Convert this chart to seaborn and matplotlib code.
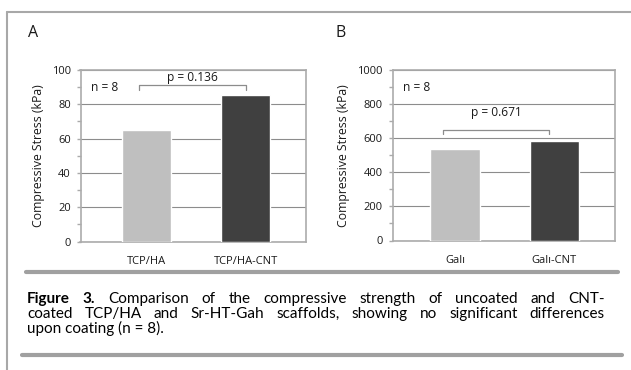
import matplotlib
matplotlib.use("Agg")
import matplotlib.pyplot as plt
import seaborn as sns
import pandas as pd
from matplotlib.ticker import MultipleLocator
from matplotlib.lines import Line2D

# values
groups_a = ["TCP/HA", "TCP/HA-CNT"]
stress_a = [65, 85.5]
groups_b = ["Galı", "Galı-CNT"]
stress_b = [535, 581]
bar_colors = ["#bfbfbf", "#404040"]
p_a = "p = 0.136"
p_b = "p = 0.671"
n_text = "n = 8"

caption_lines = [
    [("Figure", "bold"), ("3.", "bold"), ("Comparison", "normal"), ("of", "normal"),
     ("the", "normal"), ("compressive", "normal"), ("strength", "normal"), ("of", "normal"),
     ("uncoated", "normal"), ("and", "normal"), ("CNT-", "normal")],
    [(w, "normal") for w in "coated TCP/HA and Sr-HT-Gah scaffolds, showing no significant differences".split()],
    [("upon coating (n = 8).", "normal")],
]

W, H = 631, 370
CHART_FONT = ["Open Sans", "DejaVu Sans"]
CAP_FONT = ["Lato", "DejaVu Sans"]

sns.set_style("white")
plt.rcParams["font.family"] = CHART_FONT


def px(x, y):
    return x / W, 1 - y / H


def make_panel(fig, rect, groups, values, ymax, step, xlim, width, bracket, ptext, ptext_y, n_xy):
    ax = fig.add_axes(rect)
    df = pd.DataFrame({"group": groups, "stress": values})
    sns.barplot(data=df, x="group", y="stress", hue="group", palette=bar_colors,
                width=width, legend=False, saturation=1, ax=ax, zorder=3)
    ax.set_xlim(*xlim)
    ax.set_ylim(0, ymax)
    ax.yaxis.set_major_locator(MultipleLocator(step))
    ax.yaxis.set_minor_locator(MultipleLocator(step / 2))
    ax.grid(axis="y", which="major", color="#8c8c8c", lw=0.8, zorder=0)
    for s in ax.spines.values():
        s.set_visible(True)
        s.set_color("#ababab")
        s.set_linewidth(1.2)
    ax.tick_params(axis="y", which="both", left=True, direction="out", color="#ababab",
                   length=3, width=1, labelsize=8, pad=4, labelcolor="#1a1a1a")
    ax.tick_params(axis="x", bottom=False, labelsize=8, pad=7, labelcolor="#1a1a1a")
    ax.set_xlabel("")
    ax.set_ylabel("Compressive Stress (kPa)", fontsize=8.8, labelpad=5, color="#1a1a1a")
    x0, x1, yb, yt = bracket
    ax.plot([x0, x0, x1, x1], [yb, yt, yt, yb], color="#8c8c8c", lw=0.9, zorder=4, clip_on=False)
    ax.text((x0 + x1) / 2, ptext_y, ptext, ha="center", va="center", fontsize=8.6, color="#1a1a1a")
    ax.text(n_xy[0], n_xy[1], n_text, transform=ax.transAxes, ha="left", va="center",
            fontsize=8.6, color="#1a1a1a")
    return ax


fig = plt.figure(figsize=(W / 100, H / 100), dpi=100)
fig.patch.set_facecolor("white")

make_panel(fig, [80.5 / W, 1 - 241.5 / H, 225 / W, 171.5 / H], groups_a, stress_a, 100, 20,
           (-0.66, 1.6), 0.49, (-0.07, 1.0, 88.5, 91), p_a, 95.5, (0.045, 0.9))
make_panel(fig, [392.5 / W, 1 - 240.5 / H, 222.5 / W, 170.5 / H], groups_b, stress_b, 1000, 200,
           (-0.63, 1.61), 0.495, (-0.12, 0.95, 625, 650), p_b, 752, (0.045, 0.9))

# panel letters
fig.text(*px(33, 33), "A", fontsize=11.5, ha="center", va="center", color="#1a1a1a")
fig.text(*px(341, 33), "B", fontsize=11.5, ha="center", va="center", color="#1a1a1a")

# frame and rules
fig.add_artist(Line2D([7 / W, 7 / W], [1 - 12 / H, 0], transform=fig.transFigure, color="#a8a8a8", lw=1.5))
fig.add_artist(Line2D([7 / W, 1], [1 - 12 / H, 1 - 12 / H], transform=fig.transFigure, color="#a8a8a8", lw=1.5))
fig.add_artist(Line2D([26 / W, 618 / W], [1 - 272 / H, 1 - 272 / H], transform=fig.transFigure, color="#a0a0a0", lw=3))
fig.add_artist(Line2D([22 / W, 622 / W], [1 - 355 / H, 1 - 355 / H], transform=fig.transFigure, color="#a0a0a0", lw=3))

# caption, one text per word, first two lines justified
renderer = fig.canvas.get_renderer()
cap_left, cap_right = 27, 605
cap_size = 11
line_base = [303, 318, 333]
for i, words in enumerate(caption_lines):
    y = 1 - line_base[i] / H
    texts = [fig.text(0, y, w, fontsize=cap_size, fontweight=wt, family=CAP_FONT, va="baseline",
                      ha="left", color="black") for w, wt in words]
    if len(texts) == 1:
        texts[0].set_x(cap_left / W)
        continue
    widths = [t.get_window_extent(renderer).width for t in texts]
    gap = (cap_right - cap_left - sum(widths)) / (len(texts) - 1)
    x = cap_left
    for t, w in zip(texts, widths):
        t.set_x(x / W)
        x += w + gap

fig.savefig("out.png", dpi=100, facecolor="white")
